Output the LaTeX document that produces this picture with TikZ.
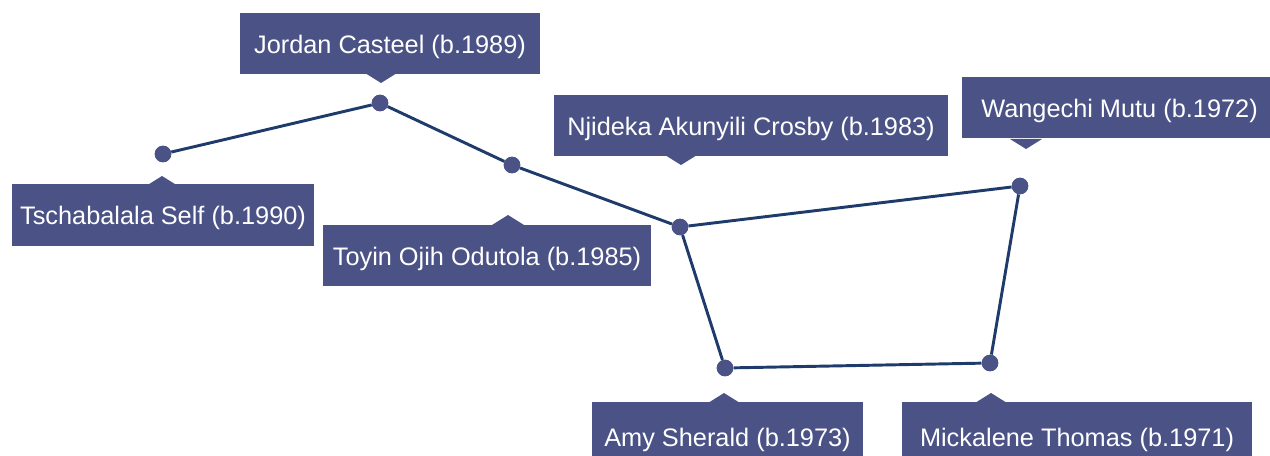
\documentclass[tikz,border=0pt]{standalone}
\usepackage{fontspec}
\setmainfont{Liberation Sans}
\definecolor{boxc}{HTML}{4B5286}
\definecolor{linec}{HTML}{1F3B6B}
\tikzset{
  lbl/.style={rectangle, fill=boxc, text=white, inner sep=0pt, minimum height=45.75pt,
    text height=18.5pt, text depth=4pt,
    font=\fontsize{19}{22}\selectfont},
  dot/.style={circle, fill=boxc, inner sep=0pt, minimum size=12.4pt},
  conn/.style={draw=linec, line width=2.2pt},
  ptr/.style={fill=boxc}
}
\begin{document}
\begin{tikzpicture}[x=0.75pt, y=-0.75pt]
\useasboundingbox (0,0) rectangle (1270,456);
% dots
\node[dot] (ts) at (163,154) {};
\node[dot] (jc) at (380,103) {};
\node[dot] (to) at (512,165) {};
\node[dot] (nj) at (680,227) {};
\node[dot] (wm) at (1020,186) {};
\node[dot] (mt) at (990,363) {};
\node[dot] (as) at (725,368) {};
% connectors
\draw[conn] (ts) -- (jc);
\draw[conn] (jc) -- (to);
\draw[conn] (to) -- (nj);
\draw[conn] (nj) -- (wm);
\draw[conn] (wm) -- (mt);
\draw[conn] (mt) -- (as);
\draw[conn] (as) -- (nj);
% redraw dots on top
\foreach \n in {ts,jc,to,nj,wm,mt,as}{\fill[boxc] (\n) circle (6.2pt);}
% labels
\node[lbl, minimum width=225pt] (ljc) at (390,43.5) {Jordan Casteel (b.1989)};
\node[lbl, minimum width=226.5pt] (lts) at (163,215) {Tschabalala Self (b.1990)};
\node[lbl, minimum width=246pt] (lto) at (487,255.5) {Toyin Ojih Odutola (b.1985)};
\node[lbl, minimum width=295.5pt] (lnj) at (751,125.5) {Njideka Akunyili Crosby (b.1983)};
\node[lbl, minimum width=236.25pt] (lwm) at (1119.5,108) {Wangechi Mutu (b.1972)};
\node[lbl, minimum width=203.25pt, minimum height=52.5pt] (las) at (727.5,437) {Amy Sherald (b.1973)};
\node[lbl, minimum width=262.5pt, minimum height=52.5pt] (lmt) at (1077,437) {Mickalene Thomas (b.1971)};
% pointer tips
\coordinate (pjc) at (381,83);
\coordinate (pts) at (162,176);
\coordinate (pto) at (508,215);
\coordinate (pnj) at (681,165);
\coordinate (pwm) at (1026,149);
\coordinate (pas) at (724,393);
\coordinate (pmt) at (991,393);
% pointers below boxes
\foreach \p in {pjc,pnj,pwm}{\fill[ptr] (\p) -- ++(-16,-10) -- ++(32,0) -- cycle;}
% pointers above boxes
\foreach \p in {pts,pto,pas,pmt}{\fill[ptr] (\p) -- ++(-16,10) -- ++(32,0) -- cycle;}
\end{tikzpicture}
\end{document}
